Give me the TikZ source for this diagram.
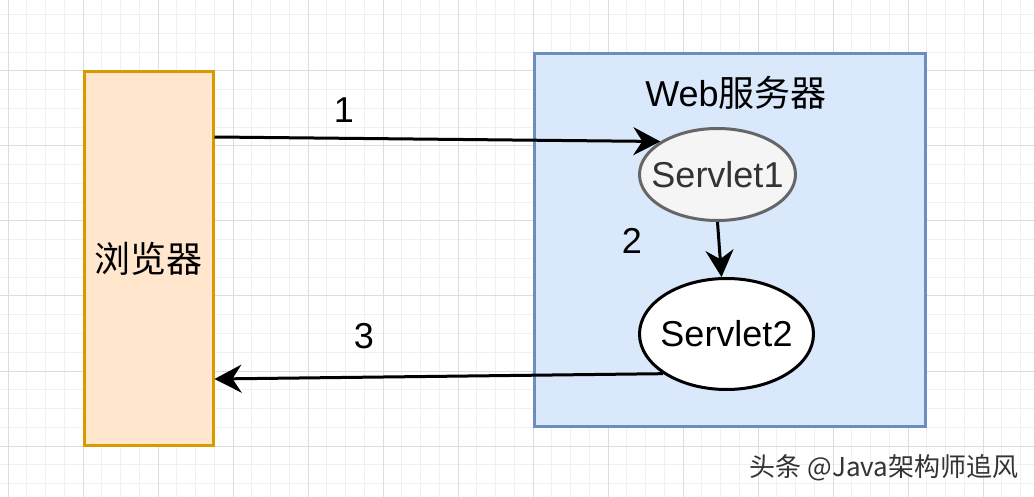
\documentclass[tikz,border=0pt]{standalone}
\usepackage{fontspec}
\setmainfont{Liberation Sans}
\newfontfamily\cjk{Noto Sans CJK SC}
\usetikzlibrary{arrows.meta, shapes.geometric}
\definecolor{gridminor}{HTML}{F0F0F0}
\definecolor{gridmajor}{HTML}{DDDDDD}
\definecolor{orangefill}{HTML}{FFE6CC}
\definecolor{orangeline}{HTML}{D79B00}
\definecolor{bluefill}{HTML}{DAE8FC}
\definecolor{blueline}{HTML}{6C8EBF}
\definecolor{grayfill}{HTML}{F5F5F5}
\definecolor{grayline}{HTML}{666666}
\definecolor{graytext}{HTML}{333333}
\newcommand{\bigfont}{\fontsize{36}{40}\selectfont}

\begin{document}
\begin{tikzpicture}[x=1pt, y=-1pt,
    box/.style={draw, rectangle, line width=3pt, inner sep=0pt},
    servlet/.style={draw, ellipse, line width=3pt, inner sep=0pt, font=\bigfont},
    num/.style={font=\bigfont, inner sep=0pt},
    flow/.style={line width=3pt, -{Stealth[length=27pt, width=28pt, inset=9pt]}}]
    \useasboundingbox (0,0) rectangle (1034,497);
    \fill[white] (0,0) rectangle (1034,497);

    % Grid
    \foreach \k in {0,...,55} {
        \draw[gridminor, line width=1pt] (8+18.75*\k,0) -- (8+18.75*\k,497);
    }
    \foreach \k in {0,...,26} {
        \draw[gridminor, line width=1pt] (0,-4+18.75*\k) -- (1034,-4+18.75*\k);
    }
    \foreach \k in {0,...,13} {
        \draw[gridmajor, line width=1pt] (8+75*\k,0) -- (8+75*\k,497);
    }
    \foreach \k in {0,...,6} {
        \draw[gridmajor, line width=1pt] (0,-4+75*\k) -- (1034,-4+75*\k);
    }

    % Boxes
    \node[box, fill=orangefill, draw=orangeline, minimum width=129pt, minimum height=373pt,
        font=\bigfont\cjk] (browser) at (148.5,258.5) {浏览器};
    \node[box, fill=bluefill, draw=blueline, minimum width=391pt, minimum height=373pt] (server) at (730,240) {};
    \node[font=\bigfont] (title) at (736,93) {Web{\cjk 服务器}};

    % Servlets
    \node[servlet, fill=grayfill, draw=grayline, text=graytext, minimum width=156pt, minimum height=92pt] (s1) at (717.5,174.5) {\makebox[0pt]{Servlet1}};
    \node[servlet, fill=white, draw=black, minimum width=174pt, minimum height=111pt] (s2) at (726.5,334) {\makebox[0pt]{Servlet2}};

    % Arrows
    \draw[flow] ([yshift=121.5pt]browser.east) -- (s1.150);
    \draw[flow] (s1.south) -- (s2.95);
    \draw[flow] (s2.212) -- ([yshift=-120.5pt]browser.east);

    \node[num] (lbl1) at (344,110) {1};
    \node[num] (lbl2) at (632,241) {2};
    \node[num] (lbl3) at (364,336) {3};

    \node[font=\fontsize{26}{30}\selectfont\cjk, text=graytext] (mark) at (884,468) {头条 @Java架构师追风};
\end{tikzpicture}
\end{document}
